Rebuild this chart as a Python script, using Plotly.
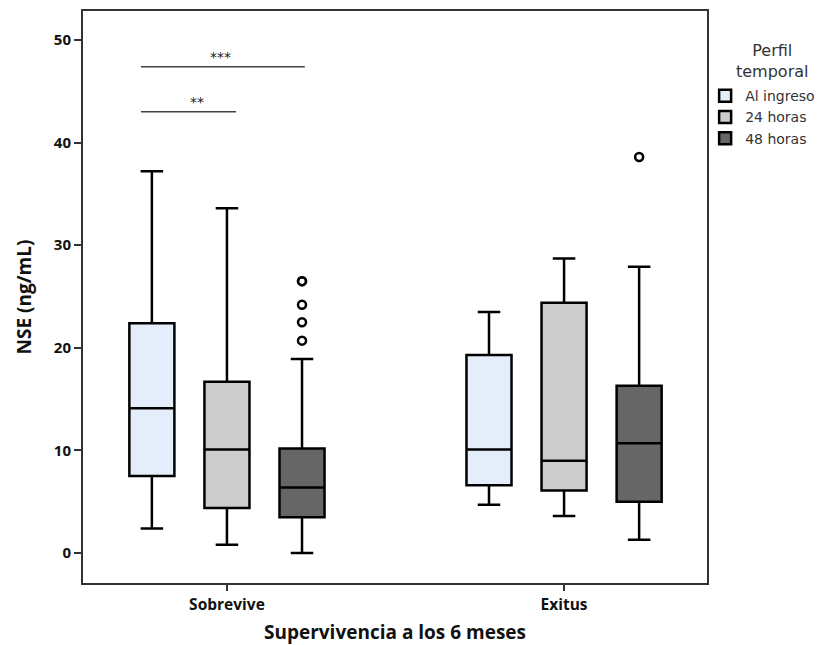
import plotly.graph_objects as go

# ---- data ----
groups = ["Sobrevive", "Exitus"]
series = ["Al ingreso", "24 horas", "48 horas"]
fills = ["#E3EEFA", "#CCCCCC", "#666666"]

# one list per series: [Sobrevive, Exitus]
lower_fence = [[2.4, 4.7], [0.8, 3.6], [0.0, 1.3]]
q1_vals = [[7.5, 6.6], [4.4, 6.1], [3.5, 5.0]]
median_vals = [[14.1, 10.1], [10.1, 9.0], [6.4, 10.7]]
q3_vals = [[22.4, 19.3], [16.7, 24.4], [10.2, 16.3]]
upper_fence = [[37.2, 23.5], [33.6, 28.7], [18.9, 27.9]]
outlier_vals = [None, None, [[20.7, 22.5, 24.2, 26.5, 26.5], [38.6]]]

y_ticks = [0, 10, 20, 30, 40, 50]

FONT_B = "Open Sans"
FONT_L = "DejaVu Sans"

fig = go.Figure()
for i, name in enumerate(series):
    if outlier_vals[i] is not None:
        kw = dict(y=outlier_vals[i], boxpoints="outliers", pointpos=0, jitter=0)
    else:
        kw = dict(boxpoints=False)
    fig.add_trace(go.Box(
        name=name,
        x=groups,
        q1=q1_vals[i],
        median=median_vals[i],
        q3=q3_vals[i],
        lowerfence=lower_fence[i],
        upperfence=upper_fence[i],
        fillcolor=fills[i],
        line=dict(color="black", width=2.5),
        whiskerwidth=0.5,
        marker=dict(symbol="circle-open", color="black", size=8,
                    line=dict(width=2.5, color="black")),
        **kw,
    ))

# significance brackets
fig.add_shape(type="line", xref="x", yref="y", x0=-0.255, x1=0.231, y0=47.4, y1=47.4,
              line=dict(color="#444444", width=1.5))
fig.add_shape(type="line", xref="x", yref="y", x0=-0.255, x1=0.027, y0=43.0, y1=43.0,
              line=dict(color="#444444", width=1.5))
fig.add_annotation(x=-0.02, y=47.4, xref="x", yref="y", text="***", showarrow=False,
                   yanchor="bottom", font=dict(size=14, color="#222222", family=FONT_L))
fig.add_annotation(x=-0.09, y=43.0, xref="x", yref="y", text="**", showarrow=False,
                   yanchor="bottom", font=dict(size=14, color="#222222", family=FONT_L))

# legend title (centred lines)
fig.add_annotation(x=1.104, y=0.912, xref="paper", yref="paper", text="Perfil<br>temporal",
                   showarrow=False, align="center", xanchor="center", yanchor="middle",
                   font=dict(family=FONT_L, size=16, color="#333333"))

fig.update_layout(
    width=824, height=637,
    paper_bgcolor="white", plot_bgcolor="white",
    margin=dict(l=75, r=125, t=3, b=62),
    boxmode="group",
    boxgap=0.332,
    boxgroupgap=0.4,
    showlegend=True,
    legend=dict(
        font=dict(family=FONT_L, size=14, color="#333333"),
        x=0.997, xanchor="left", y=0.879, yanchor="top",
        itemwidth=30, tracegroupgap=0,
        bgcolor="rgba(0,0,0,0)",
    ),
    xaxis=dict(
        type="category",
        range=[-0.427, 1.424],
        automargin=False,
        showline=True, mirror=True, linecolor="#333333", linewidth=2,
        ticks="outside", ticklen=6, tickwidth=2, tickcolor="#333333",
        tickfont=dict(family=FONT_B, size=15.5, color="#111111", weight="bold"),
        title=dict(text="Supervivencia a los 6 meses",
                   font=dict(family=FONT_B, size=19, color="#111111", weight="bold"),
                   standoff=15),
        showgrid=False, zeroline=False,
    ),
    yaxis=dict(
        range=[-2.92, 52.83],
        tickvals=y_ticks,
        automargin=False,
        showline=True, mirror=True, linecolor="#333333", linewidth=2,
        ticks="outside", ticklen=7, tickwidth=2, tickcolor="#333333",
        tickfont=dict(family=FONT_B, size=15, color="#111111", weight="bold"),
        title=dict(text="NSE (ng/mL)",
                   font=dict(family=FONT_B, size=19, color="#111111", weight="bold"),
                   standoff=17),
        showgrid=False, zeroline=False,
    ),
)

fig.write_html("out.html")
